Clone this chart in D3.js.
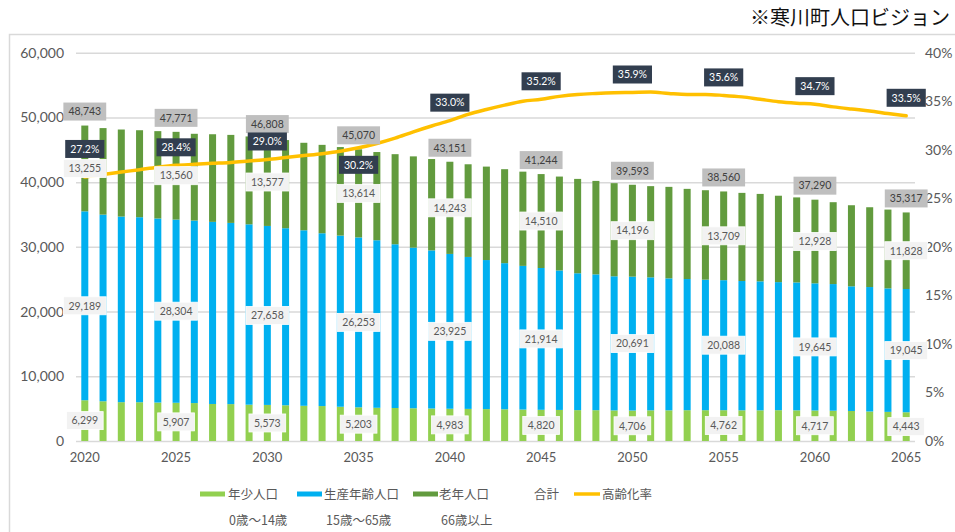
<!DOCTYPE html>
<html><head><meta charset="utf-8">
<script src="https://cdn.jsdelivr.net/npm/d3@7/dist/d3.min.js"></script>
<style>
html,body{margin:0;padding:0;background:#fff;}
svg{display:block;}
</style></head>
<body><svg id="c" width="955" height="532"></svg>
<script>
const years = [2020,2021,2022,2023,2024,2025,2026,2027,2028,2029,2030,2031,2032,2033,2034,2035,2036,2037,2038,2039,2040,2041,2042,2043,2044,2045,2046,2047,2048,2049,2050,2051,2052,2053,2054,2055,2056,2057,2058,2059,2060,2061,2062,2063,2064,2065];
const young = [6299,6140,6000,5990,5940,5907,5860,5720,5700,5610,5573,5520,5440,5400,5290,5203,5130,5100,5060,5020,4983,4960,4930,4900,4860,4820,4800,4770,4760,4730,4706,4740,4740,4760,4760,4762,4740,4740,4760,4740,4717,4680,4640,4560,4500,4443];
const working = [29189,28840,28680,28590,28440,28304,28200,28140,28000,27870,27658,27360,27120,26700,26450,26253,25890,25300,24820,24430,23925,23480,23030,22580,22200,21914,21550,21150,20990,20720,20691,20550,20390,20270,20170,20088,19980,19930,19790,19760,19645,19570,19260,19230,19080,19045];
const old = [13255,13370,13450,13440,13500,13560,13410,13540,13600,13580,13577,13620,13520,13660,13680,13614,13630,13920,14100,14120,14243,14320,14440,14520,14560,14510,14510,14580,14440,14390,14196,14090,14140,13930,13820,13709,13620,13510,13350,13140,12928,12650,12530,12330,12180,11828];
const total = [48743,48350,48130,48020,47880,47771,47470,47400,47300,47060,46808,46500,46080,45760,45420,45070,44650,44320,43980,43570,43151,42760,42400,42000,41620,41244,40860,40500,40190,39840,39593,39380,39270,38960,38750,38560,38340,38180,37870,37660,37290,36900,36430,36120,35720,35317];
const rate = [27.2,27.45,27.7,27.95,28.2,28.4,28.5,28.6,28.7,28.85,29.0,29.2,29.4,29.6,29.85,30.2,30.65,31.2,31.85,32.45,33.0,33.65,34.15,34.6,35.0,35.2,35.5,35.7,35.8,35.87,35.9,35.94,35.8,35.7,35.7,35.6,35.45,35.2,34.95,34.8,34.7,34.42,34.2,34.0,33.74,33.5];
const labelYears = [2020,2025,2030,2035,2040,2045,2050,2055,2060,2065];
const leftTicks = [0,10000,20000,30000,40000,50000,60000];
const leftTickLabels = ["0","10,000","20,000","30,000","40,000","50,000","60,000"];
const rightTicks = [0,5,10,15,20,25,30,35,40];
const rightTickLabels = ["0%","5%","10%","15%","20%","25%","30%","35%","40%"];
const seriesNames = ["年少人口","生産年齢人口","老年人口","合計","高齢化率"];
const seriesSub = ["0歳～14歳","15歳～65歳","66歳以上"];
const titleText = "※寒川町人口ビジョン";

const C = {young:"#92D050", working:"#00B0F0", old:"#629B3E", line:"#FFC000", grid:"#D9D9D9", axis:"#595959"};
const svg = d3.select("#c");
const FONT = "Lato, 'Noto Sans', sans-serif";
const CJK = "'Noto Sans CJK JP', 'Noto Sans', sans-serif";

// frame
svg.append("rect").attr("x",9.5).attr("y",34.5).attr("width",1100).attr("height",700)
  .attr("fill","none").attr("stroke","#D9D9D9").attr("stroke-width",1.5);

svg.append("text").attr("x",950).attr("y",25).attr("text-anchor","end")
  .attr("font-family",CJK).attr("font-size",20).attr("fill","#111").text(titleText);

const x = d3.scaleBand().domain(years).range([76,915]).paddingInner(0.616).paddingOuter(0.29);
const y = d3.scaleLinear().domain([0,60000]).range([441,52.7]);
const yr = d3.scaleLinear().domain([0,40]).range([441,52.7]);
const cx = d => x(d) + x.bandwidth()/2;

// grid
const gGrid = svg.append("g").attr("transform","translate(76,0)")
  .call(d3.axisLeft(y).tickValues(leftTicks).tickSize(-839).tickFormat(""));
gGrid.select(".domain").remove();
gGrid.selectAll("line").attr("stroke",C.grid).attr("stroke-width",1.5);

// left axis
const gL = svg.append("g").attr("transform","translate(64,0)")
  .call(d3.axisLeft(y).tickValues(leftTicks).tickSize(0).tickPadding(0).tickFormat((d,i)=>leftTickLabels[i]));
gL.select(".domain").remove();
gL.selectAll("text").attr("font-family",FONT).attr("font-size",14).attr("fill",C.axis);

// right axis
const gR = svg.append("g").attr("transform","translate(925,0)")
  .call(d3.axisRight(yr).tickValues(rightTicks).tickSize(0).tickPadding(0).tickFormat((d,i)=>rightTickLabels[i]));
gR.select(".domain").remove();
gR.selectAll("text").attr("font-family",FONT).attr("font-size",14).attr("fill",C.axis);

// x axis
const gX = svg.append("g").attr("transform","translate(0,453)")
  .call(d3.axisBottom(x).tickValues(labelYears).tickSize(0).tickPadding(0));
gX.select(".domain").remove();
gX.selectAll("text").attr("font-family",FONT).attr("font-size",13).attr("fill",C.axis);

// stacked bars
const rows = years.map((yv,i)=>({year:yv, young:young[i], working:working[i], old:old[i]}));
const stack = d3.stack().keys(["young","working","old"])(rows);
svg.append("g").selectAll("g").data(stack).join("g")
  .attr("fill",d=>C[d.key])
  .selectAll("rect").data(d=>d).join("rect")
  .attr("x",d=>x(d.data.year)).attr("width",x.bandwidth())
  .attr("y",d=>y(d[1])).attr("height",d=>y(d[0])-y(d[1]));

// line
const line = d3.line().x((d,i)=>cx(years[i])).y(d=>yr(d)).curve(d3.curveMonotoneX);
svg.append("path").datum(rate).attr("d",line).attr("fill","none")
  .attr("stroke",C.line).attr("stroke-width",3.5).attr("stroke-linecap","round");

// labels
const fmt = d3.format(",");
const gLab = svg.append("g");
function box(xc, yc, txt, bg, fg, border){
  const g = gLab.append("g");
  const t = g.append("text").attr("x",xc).attr("y",yc).attr("dy","0.36em").attr("text-anchor","middle")
    .attr("font-family",FONT).attr("font-size",10.5).attr("fill",fg).text(txt);
  const w = t.node().getComputedTextLength() + 10;
  g.insert("rect","text").attr("x",xc-w/2).attr("y",yc-9).attr("width",w).attr("height",18)
    .attr("fill",bg).attr("stroke",border||"none").attr("stroke-width",0.8);
}
const rateShift = {2020:-28, 2035:17};
labelYears.forEach(yv=>{
  const i = years.indexOf(yv);
  const c = cx(yv);
  box(c, y(young[i]/2), fmt(young[i]), "#F2F2F2", "#595959", "#FFFFFF");
  box(c, y(young[i]+working[i]/2), fmt(working[i]), "#F2F2F2", "#595959", "#FFFFFF");
  box(c, y(young[i]+working[i]+old[i]/2), fmt(old[i]), "#F2F2F2", "#595959", "#FFFFFF");
  box(c, y(total[i])-14, fmt(total[i]), "#BFBFBF", "#404040");
});
labelYears.forEach(yv=>{
  const i = years.indexOf(yv);
  const dy = rateShift[yv] !== undefined ? rateShift[yv] : -18;
  box(cx(yv), yr(rate[i])+dy, rate[i].toFixed(1)+"%", "#323E4F", "#FFFFFF");
});

// legend
const leg = svg.append("g").attr("font-family",CJK).attr("font-size",12.5).attr("fill",C.axis);
const legItems = [
  {sw:C.young, x:200, tx:228, name:seriesNames[0], sub:seriesSub[0], subx:229},
  {sw:C.working, x:297, tx:324, name:seriesNames[1], sub:seriesSub[1], subx:326},
  {sw:C.old, x:413, tx:439, name:seriesNames[2], sub:seriesSub[2], subx:441},
  {sw:null, x:0, tx:534, name:seriesNames[3]},
  {sw:C.line, x:574, tx:602, name:seriesNames[4], isLine:true}
];
legItems.forEach(it=>{
  if(it.sw){
    if(it.isLine){
      leg.append("line").attr("x1",it.x).attr("x2",it.x+26).attr("y1",494).attr("y2",494)
        .attr("stroke",it.sw).attr("stroke-width",3.5);
    } else {
      leg.append("rect").attr("x",it.x).attr("y",491.5).attr("width",25).attr("height",5).attr("fill",it.sw);
    }
  }
  leg.append("text").attr("x",it.tx).attr("y",494).attr("dy","0.36em").text(it.name);
  if(it.sub) leg.append("text").attr("x",it.subx).attr("y",520).attr("dy","0.36em").text(it.sub);
});
</script></body></html>
